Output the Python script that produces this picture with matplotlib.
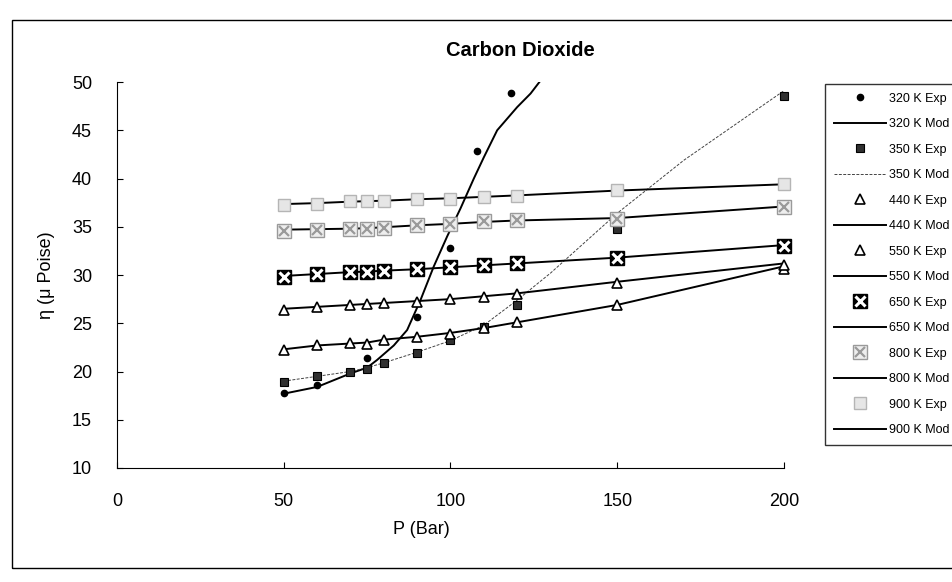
import numpy as np
import matplotlib.pyplot as plt
from matplotlib.patches import Rectangle
from matplotlib.legend_handler import HandlerTuple

plt.rcParams['font.family'] = ['Liberation Sans', 'DejaVu Sans']

################################## Data ########################################

# common pressure grid (bar)
p = [50, 60, 70, 75, 80, 90, 100, 110, 120, 150, 200]

# 320 K
p_320 = [50, 60, 70, 75, 90, 100, 108, 118]
exp_320 = [17.8, 18.6, 20.0, 21.4, 25.6, 32.8, 42.8, 48.9]
p_320_mod = [50, 60, 70, 75, 78, 83, 87, 91, 95, 99, 103, 107, 110, 114, 120, 124, 130]
mod_320 = [17.7, 18.4, 19.8, 20.4, 21.2, 22.7, 24.3, 27.4, 30.9, 34.0, 36.9, 40.0,
           42.2, 45.0, 47.4, 48.8, 51.5]

# 350 K
exp_350 = [18.9, 19.5, 19.9, 20.3, 20.85, 21.95, 23.3, 24.6, 26.9, 34.8, 48.5]
p_350_mod = [50, 60, 70, 75, 80, 90, 100, 110, 120, 130, 150, 170, 200]
mod_350 = [19.0, 19.5, 20.0, 20.4, 20.9, 22.0, 23.2, 24.8, 27.4, 30.2, 36.4, 41.9, 49.1]

# 440 K .. 900 K
exp_440 = [22.2, 22.7, 23.0, 22.9, 23.3, 23.6, 23.9, 24.5, 25.1, 26.9, 30.6]
mod_440 = [22.3, 22.7, 22.9, 23.0, 23.3, 23.6, 24.0, 24.5, 25.1, 26.9, 30.9]
exp_550 = [26.4, 26.7, 26.9, 27.0, 27.1, 27.2, 27.5, 27.75, 28.0, 29.2, 31.0]
mod_550 = [26.5, 26.7, 26.9, 27.0, 27.1, 27.3, 27.5, 27.8, 28.1, 29.3, 31.2]
exp_650 = [29.8, 30.1, 30.35, 30.35, 30.4, 30.6, 30.8, 31.0, 31.2, 31.8, 33.0]
mod_650 = [29.9, 30.1, 30.3, 30.35, 30.45, 30.6, 30.8, 31.0, 31.2, 31.8, 33.1]
exp_800 = [34.6, 34.7, 34.8, 34.8, 34.9, 35.2, 35.3, 35.6, 35.7, 35.8, 37.0]
mod_800 = [34.7, 34.75, 34.8, 34.85, 34.95, 35.15, 35.3, 35.5, 35.65, 35.9, 37.1]
exp_900 = [37.3, 37.4, 37.7, 37.7, 37.7, 37.9, 37.9, 38.1, 38.2, 38.8, 39.4]
mod_900 = [37.35, 37.45, 37.6, 37.65, 37.7, 37.85, 37.95, 38.1, 38.25, 38.75, 39.4]

################################## Plotting ####################################

fig = plt.figure(figsize=(9.53, 5.82), dpi=100)
ax = fig.add_axes([117/953, 1-468/582, (784-117)/953, (468-82)/582])

# chart area border (goes off the right edge)
fig.add_artist(Rectangle((12/953, 1-568/582), 1.2, (568-20)/582, transform=fig.transFigure,
                         fill=False, edgecolor='black', linewidth=1.0))

lw = 1.4
h = []
lab = []

# 320 K
m, = ax.plot(p_320, exp_320, 'o', ms=4.5, color='black', zorder=5, clip_on=False)
l, = ax.plot(p_320_mod, mod_320, '-', color='black', lw=lw)
h += [m, l]; lab += ['320 K Exp', '320 K Mod']

# 350 K
m, = ax.plot(p, exp_350, 's', ms=5.5, mfc='#303030', mec='black', mew=0.8, zorder=5,
             clip_on=False)
l, = ax.plot(p_350_mod, mod_350, '--', color='#444444', lw=0.7, dashes=(3, 1.5))
h += [m, l]; lab += ['350 K Exp', '350 K Mod']

# 440 K
m, = ax.plot(p, exp_440, '^', ms=7.5, mfc='white', mec='black', mew=1.2, zorder=5,
             clip_on=False)
l, = ax.plot(p, mod_440, '-', color='black', lw=lw)
h += [m, l]; lab += ['440 K Exp', '440 K Mod']

# 550 K
m, = ax.plot(p, exp_550, '^', ms=7.5, mfc='white', mec='black', mew=1.2, zorder=5,
             clip_on=False)
l, = ax.plot(p, mod_550, '-', color='black', lw=lw)
h += [m, l]; lab += ['550 K Exp', '550 K Mod']

# 650 K
m1, = ax.plot(p, exp_650, 's', ms=10, mfc='black', mec='black', zorder=5, clip_on=False)
m2, = ax.plot(p, exp_650, 'x', ms=7, mew=2.2, color='white', zorder=6, clip_on=False)
l, = ax.plot(p, mod_650, '-', color='black', lw=lw)
h += [(m1, m2), l]; lab += ['650 K Exp', '650 K Mod']

# 800 K
m1, = ax.plot(p, exp_800, 's', ms=10, mfc='#eeeeee', mec='#9a9a9a', mew=1.0, zorder=5,
              clip_on=False)
m2, = ax.plot(p, exp_800, 'x', ms=7, mew=1.6, color='#9a9a9a', zorder=6, clip_on=False)
l, = ax.plot(p, mod_800, '-', color='black', lw=lw)
h += [(m1, m2), l]; lab += ['800 K Exp', '800 K Mod']

# 900 K
m, = ax.plot(p, exp_900, 's', ms=9, mfc='#e6e6e6', mec='#b5b5b5', mew=1.0, zorder=5,
             clip_on=False)
l, = ax.plot(p, mod_900, '-', color='black', lw=lw)
h += [m, l]; lab += ['900 K Exp', '900 K Mod']

ax.set_xlim(0, 200)
ax.set_ylim(10, 50)
ax.set_xticks([0, 50, 100, 150, 200])
ax.set_yticks(np.arange(10, 51, 5))
ax.spines['top'].set_visible(False)
ax.spines['right'].set_visible(False)
ax.tick_params(direction='in', length=4, labelsize=13)
ax.tick_params(axis='x', pad=18)
ax.tick_params(axis='y', pad=18)

fig.text(520/953, 1-50/582, 'Carbon Dioxide', ha='center', va='center',
         fontsize=14.5, fontweight='bold')
fig.text(421/953, 1-530/582, 'P (Bar)', ha='center', va='center', fontsize=13)
fig.text(47/953, 1-275/582, 'η (μ Poise)', ha='center', va='center', fontsize=13,
         rotation=90)

leg = fig.legend(h, lab, loc='upper left', bbox_to_anchor=(825/953, 1-84/582),
                 borderaxespad=0, fontsize=9, frameon=True, fancybox=False,
                 edgecolor='black', handlelength=4.2, handletextpad=0.2,
                 labelspacing=1.08, borderpad=0.7,
                 handler_map={tuple: HandlerTuple(ndivide=1)})
leg.get_frame().set_linewidth(1.0)

fig.savefig('out.png', dpi=100)
